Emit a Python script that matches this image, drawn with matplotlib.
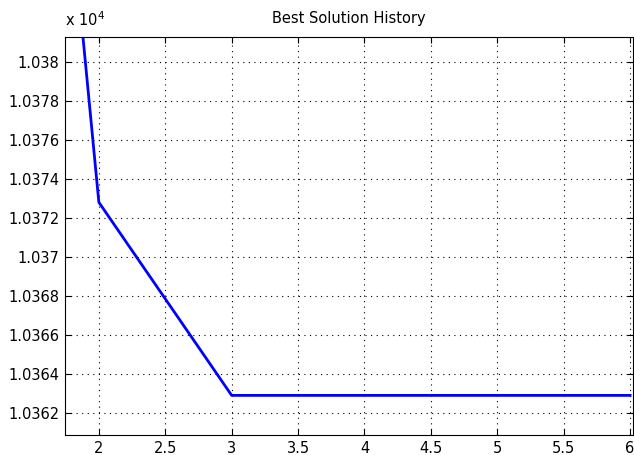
import numpy as np
import matplotlib
matplotlib.use('Agg')
import matplotlib.pyplot as plt
from matplotlib.ticker import FuncFormatter

# best solution value per iteration
iterations = [1, 2, 3, 4, 5, 6]
best_cost = [10443.6, 10372.8, 10362.9, 10362.9, 10362.9, 10362.9]

x_ticks = [2, 2.5, 3, 3.5, 4, 4.5, 5, 5.5, 6]
y_ticks = [10362, 10364, 10366, 10368, 10370, 10372, 10374, 10376, 10378, 10380]

plt.rcParams['font.family'] = ['DejaVu Sans']

fig = plt.figure(figsize=(6.34, 4.55), dpi=100)
ax = fig.add_axes([0.1025, 0.044, 0.8955, 0.875])

ax.plot(iterations, best_cost, color='#0000ff', lw=2)

ax.set_xlim(1.745, 6.02)
ax.set_ylim(10360.87, 10381.28)
ax.set_xticks(x_ticks)
ax.set_yticks(y_ticks)
ax.yaxis.set_major_formatter(FuncFormatter(lambda v, p: '%g' % round(v / 1e4, 6)))
ax.xaxis.set_major_formatter(FuncFormatter(lambda v, p: '%g' % v))

ax.grid(True, color='black', linestyle=(0, (1, 4)), linewidth=0.8)
ax.tick_params(direction='in', top=True, right=True, labelsize=10.5, length=4, pad=4)
for s in ax.spines.values():
    s.set_linewidth(0.8)

ax.set_title('Best Solution History', fontsize=10.5, pad=10)
ax.text(0, 1.02, r'x 10$^{4}$', transform=ax.transAxes, fontsize=10.5, ha='left', va='bottom')

fig.savefig('out.png', dpi=100)
